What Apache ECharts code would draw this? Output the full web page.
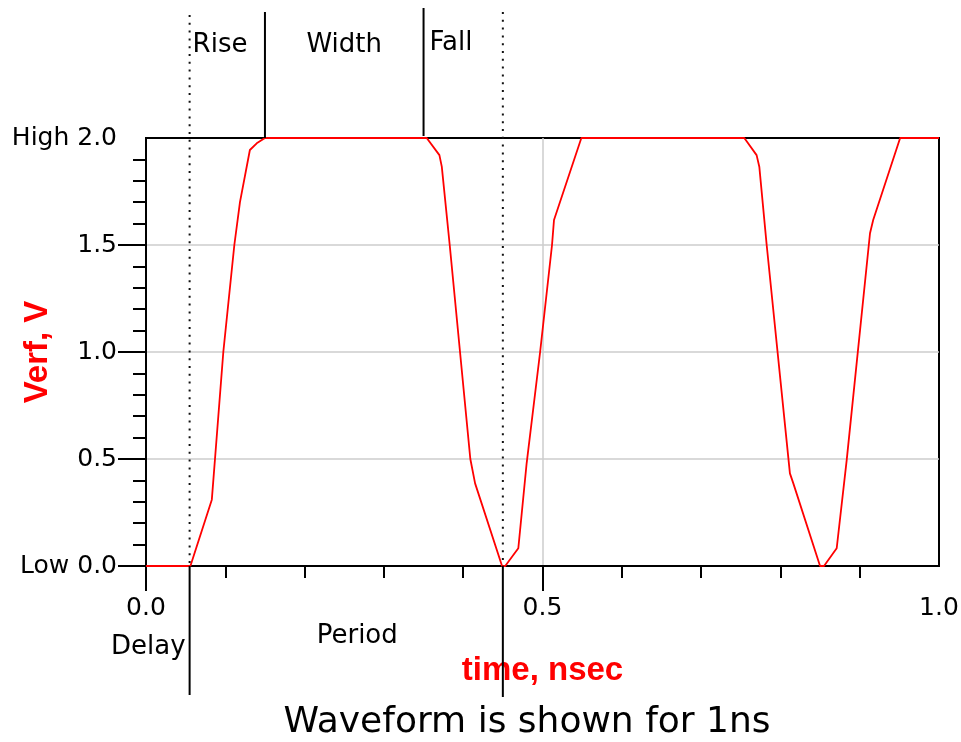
<!DOCTYPE html>
<html><head><meta charset="utf-8">
<script src="https://cdn.jsdelivr.net/npm/echarts@6/dist/echarts.min.js"></script>
<style>html,body{margin:0;padding:0;background:#fff}#c{width:961px;height:742px}</style>
</head><body><div id="c"></div>
<script>
// waveform samples (time in ns, voltage in V)
const timeNs  = [0, 0.056, 0.083, 0.087, 0.0975, 0.1114, 0.1185, 0.131, 0.1396, 0.150,
                 0.354, 0.370, 0.373, 0.383, 0.409, 0.415, 0.449, 0.453,
                 0.4695, 0.480, 0.497, 0.512, 0.5145, 0.549,
                 0.7545, 0.770, 0.7734, 0.7827, 0.812, 0.8163, 0.850, 0.855,
                 0.871, 0.8836, 0.913, 0.917, 0.951, 1.0];
const voltage = [0, 0, 0.31, 0.50, 1.00, 1.50, 1.70, 1.944, 1.975, 2.0,
                 2.0, 1.92, 1.866, 1.5, 0.50, 0.386, 0, 0,
                 0.083, 0.48, 1.0, 1.5, 1.617, 2.0,
                 2.0, 1.92, 1.866, 1.5, 0.433, 0.386, 0, 0,
                 0.083, 0.495, 1.555, 1.617, 2.0, 2.0];
const xTickLabels = ['0.0', '0.5', '1.0'];
const yTickLabels = ['Low 0.0', '0.5', '1.0', '1.5', 'High 2.0'];
// marker times: delay end, rise end, fall start, period end
const markerTimes = [0.055, 0.15, 0.35, 0.45];
const segmentNames = ['Delay', 'Rise', 'Width', 'Fall', 'Period'];
const xName = 'time, nsec';
const yName = 'Verf, V';
const titleText = 'Waveform is shown for 1ns';

const chart = echarts.init(document.getElementById('c'), null, {renderer: 'canvas'});
const tickFont = 'DejaVu Sans';
const black = '#000';

function annotations(params, api) {
  const y0 = api.coord([0, 0])[1];
  const y2 = api.coord([0, 2])[1];
  const xs = markerTimes.map(t => api.coord([t, 0])[0]);
  const dotted = {stroke: '#111', lineWidth: 2, lineDash: [2, 5.8]};
  const solid = {stroke: black, lineWidth: 2};
  const line = (x, ya, yb, st) => ({type: 'line', shape: {x1: x, y1: ya, x2: x, y2: yb}, style: st, silent: true});
  const txt = (text, x, y, align) => ({type: 'text', silent: true,
    style: {text: text, x: x, y: y, align: align, verticalAlign: 'middle', fill: '#000',
            fontSize: 26, fontFamily: tickFont}});
  return {type: 'group', children: [
    line(xs[0], y2 - 123, y0, dotted),
    line(xs[0], y0, y0 + 129, solid),
    line(xs[1], y2 - 126, y2, solid),
    line(xs[2], y2 - 130, y2 - 2, solid),
    line(xs[3], y2 - 126, y0, dotted),
    line(xs[3], y0, y0 + 131, solid),
    txt(segmentNames[0], xs[0] - 4, y0 + 81, 'right'),
    txt(segmentNames[1], xs[0] + 3, y2 - 93, 'left'),
    txt(segmentNames[2], (xs[1] + xs[2]) / 2, y2 - 93, 'center'),
    txt(segmentNames[3], xs[2] + 6, y2 - 95, 'left'),
    txt(segmentNames[4], (xs[0] + xs[3]) / 2 + 11, y0 + 70, 'center')
  ]};
}

const option = {
  animation: false,
  backgroundColor: '#fff',
  grid: {left: 146, top: 138, width: 793, height: 428, show: true, containLabel: false,
         outerBoundsMode: 'none',
         borderColor: black, borderWidth: 2, backgroundColor: 'transparent'},
  graphic: [{
    type: 'text', x: 527, y: 723,
    style: {text: titleText, align: 'center', verticalAlign: 'middle', fill: '#000',
            fontSize: 36, fontFamily: 'DejaVu Sans'}
  }],
  xAxis: {
    type: 'value', min: 0, max: 1, interval: 0.5,
    name: xName, nameLocation: 'middle', nameGap: 88, nameMoveOverlap: false,
    nameTextStyle: {color: '#ff0000', fontWeight: 'bold', fontSize: 33, fontFamily: 'Liberation Sans'},
    axisLine: {show: true, lineStyle: {color: black, width: 2}},
    axisTick: {show: true, length: 25, customValues: [0, 0.5], lineStyle: {color: black, width: 2}},
    minorTick: {show: true, splitNumber: 5, length: 12, lineStyle: {color: black, width: 2}},
    axisLabel: {margin: 30, color: '#000', fontSize: 25, fontFamily: tickFont,
                formatter: v => xTickLabels[Math.round(v / 0.5)]},
    splitLine: {show: true, lineStyle: {color: '#cccccc', width: 1.5}}
  },
  yAxis: {
    type: 'value', min: 0, max: 2, interval: 0.5,
    name: yName, nameLocation: 'middle', nameGap: 92, nameRotate: 90, nameMoveOverlap: false,
    nameTextStyle: {color: '#ff0000', fontWeight: 'bold', fontSize: 33, fontFamily: 'Liberation Sans'},
    axisLine: {show: true, lineStyle: {color: black, width: 2}},
    axisTick: {show: true, length: 28, customValues: [0, 0.5, 1, 1.5], lineStyle: {color: black, width: 2}},
    minorTick: {show: true, splitNumber: 5, length: 13, lineStyle: {color: black, width: 2}},
    axisLabel: {margin: 29, color: '#000', fontSize: 25, fontFamily: tickFont,
                formatter: v => yTickLabels[Math.round(v / 0.5)]},
    splitLine: {show: true, lineStyle: {color: '#cccccc', width: 1.5}}
  },
  series: [
    {
      type: 'line', data: timeNs.map((t, i) => [t, voltage[i]]),
      showSymbol: false, symbol: 'none', clip: false, z: 5,
      lineStyle: {color: '#ff0000', width: 1.8}
    },
    {
      type: 'custom', clip: false, z: 10, silent: true,
      data: [[0, 0]], renderItem: annotations
    }
  ]
};
chart.setOption(option);
</script>
</body></html>
